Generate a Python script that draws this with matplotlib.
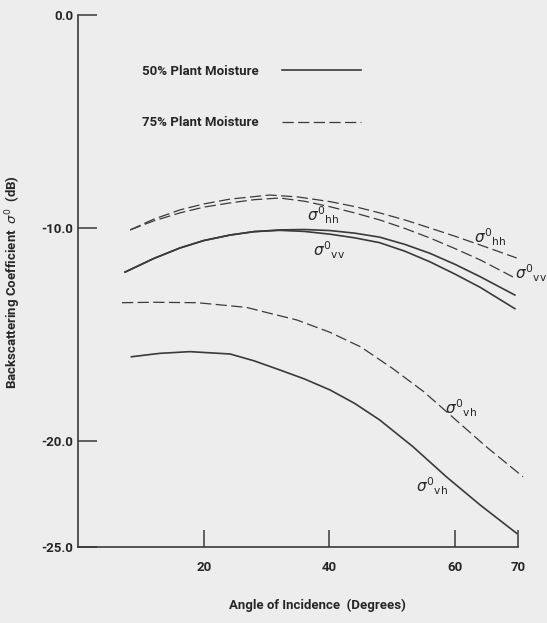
import numpy as np
import matplotlib
matplotlib.use("Agg")
import matplotlib.pyplot as plt

plt.rcParams['font.family'] = ['Roboto', 'DejaVu Sans']
plt.rcParams['axes.unicode_minus'] = False
plt.rcParams['mathtext.fontset'] = 'dejavusans'

# 50% plant moisture (solid)
angle_hh50 = [7.5, 12.0, 16.2, 20.0, 24.2, 28.0, 32.1, 36.0, 40.1, 44.0, 48.0, 52.0, 56.0, 60.0, 64.0, 69.5]
hh50 = [-12.08, -11.45, -10.95, -10.60, -10.34, -10.18, -10.10, -10.08, -10.13, -10.25, -10.44, -10.78, -11.20, -11.72, -12.30, -13.16]
angle_vv50 = [7.5, 12.0, 16.2, 20.0, 24.2, 28.0, 32.1, 36.0, 40.1, 44.0, 48.0, 52.0, 56.0, 60.0, 64.0, 69.5]
vv50 = [-12.08, -11.45, -10.95, -10.60, -10.34, -10.18, -10.12, -10.17, -10.30, -10.47, -10.70, -11.10, -11.60, -12.18, -12.80, -13.80]
angle_vh50 = [8.5, 13.0, 17.8, 24.2, 28.0, 32.1, 36.0, 40.1, 44.0, 48.0, 53.3, 58.6, 64.0, 69.8]
vh50 = [-16.06, -15.90, -15.82, -15.93, -16.25, -16.68, -17.10, -17.62, -18.25, -19.03, -20.29, -21.70, -23.03, -24.36]

# 75% plant moisture (dashed)
angle_hh75 = [8.3, 12.0, 16.2, 20.0, 24.2, 30.5, 35.0, 40.1, 44.0, 48.0, 52.0, 56.0, 60.0, 64.0, 69.8]
hh75 = [-10.10, -9.60, -9.16, -8.88, -8.65, -8.46, -8.55, -8.77, -9.00, -9.30, -9.63, -10.01, -10.40, -10.81, -11.42]
angle_vv75 = [8.3, 12.0, 16.2, 20.0, 24.2, 28.0, 32.1, 36.0, 40.1, 44.0, 48.0, 52.0, 56.0, 60.0, 64.0, 69.2]
vv75 = [-10.10, -9.68, -9.30, -9.03, -8.83, -8.68, -8.60, -8.75, -9.01, -9.30, -9.63, -10.03, -10.48, -10.98, -11.51, -12.31]
angle_vh75 = [7.0, 12.0, 19.0, 26.8, 30.0, 34.8, 40.0, 45.0, 50.0, 55.0, 60.0, 65.0, 70.8]
vh75 = [-13.52, -13.50, -13.52, -13.74, -13.98, -14.33, -14.90, -15.60, -16.60, -17.70, -19.00, -20.30, -21.70]

xticks = [20, 40, 60, 70]
yticks = [0.0, -10.0, -20.0, -25.0]

ink = '#3a3a3a'
txt = '#262626'
bg = '#ededed'
dash = (0, (9, 3.5))

fig = plt.figure(figsize=(5.47, 6.23), dpi=100, facecolor=bg)
ax = fig.add_axes([78 / 547, 76 / 623, 440 / 547, 532 / 623])
ax.set_facecolor(bg)

l50, = ax.plot(angle_hh50, hh50, color=ink, lw=1.2, clip_on=False)
ax.plot(angle_vv50, vv50, color=ink, lw=1.2, clip_on=False)
ax.plot(angle_vh50, vh50, color=ink, lw=1.2, clip_on=False)
l75, = ax.plot(angle_hh75, hh75, color=ink, lw=0.9, ls=dash, clip_on=False)
ax.plot(angle_vv75, vv75, color=ink, lw=0.9, ls=dash, clip_on=False)
ax.plot(angle_vh75, vh75, color=ink, lw=0.9, ls=dash, clip_on=False)

ax.set_xlim(0, 70)
ax.set_ylim(-25, 0)
ax.set_xticks(xticks)
ax.set_xticklabels([str(t) for t in xticks])
ax.set_yticks(yticks)
ax.set_yticklabels(['%.1f' % t for t in yticks])

for s in ['top', 'right']:
    ax.spines[s].set_visible(False)
for s in ['left', 'bottom']:
    ax.spines[s].set_linewidth(1.2)
    ax.spines[s].set_color(ink)
ax.tick_params(axis='x', direction='in', length=12, width=1.1, pad=10, colors=ink,
               labelsize=9.5, labelcolor=txt)
ax.tick_params(axis='y', direction='in', length=14, width=1.1, pad=3.5, colors=ink,
               labelsize=9.5, labelcolor=txt)
for lab in ax.get_xticklabels() + ax.get_yticklabels():
    lab.set_fontweight('bold')

ax.set_xlabel('Angle of Incidence  (Degrees)', fontsize=9.5, fontweight='bold', color=txt)
ax.xaxis.set_label_coords(0.545, -0.098)
ax.set_ylabel(r'Backscattering Coefficient  $\sigma^0$  (dB)', fontsize=9.5, fontweight='bold',
              color=txt)
ax.yaxis.set_label_coords(-0.125, 0.498)

ax.legend([l50, l75], ['50% Plant Moisture', '75% Plant Moisture'], markerfirst=False,
          frameon=False, loc='upper left', bbox_to_anchor=(0.145, 0.906), borderpad=0,
          borderaxespad=0, handlelength=6.0, handletextpad=1.8, labelspacing=2.9,
          prop={'size': 9.5, 'weight': 'bold'}, labelcolor=txt)

lab_kw = dict(fontsize=11, color=txt, va='center', ha='left', clip_on=False)
ax.text(36.4, -9.40, r'$\sigma^0{}_{\mathrm{hh}}$', **lab_kw)
ax.text(37.4, -11.04, r'$\sigma^0{}_{\mathrm{vv}}$', **lab_kw)
ax.text(63.0, -10.43, r'$\sigma^0{}_{\mathrm{hh}}$', **lab_kw)
ax.text(69.5, -12.12, r'$\sigma^0{}_{\mathrm{vv}}$', **lab_kw)
ax.text(58.4, -18.47, r'$\sigma^0{}_{\mathrm{vh}}$', **lab_kw)
ax.text(53.8, -22.13, r'$\sigma^0{}_{\mathrm{vh}}$', **lab_kw)

fig.savefig('out.png', dpi=100, facecolor=bg)
